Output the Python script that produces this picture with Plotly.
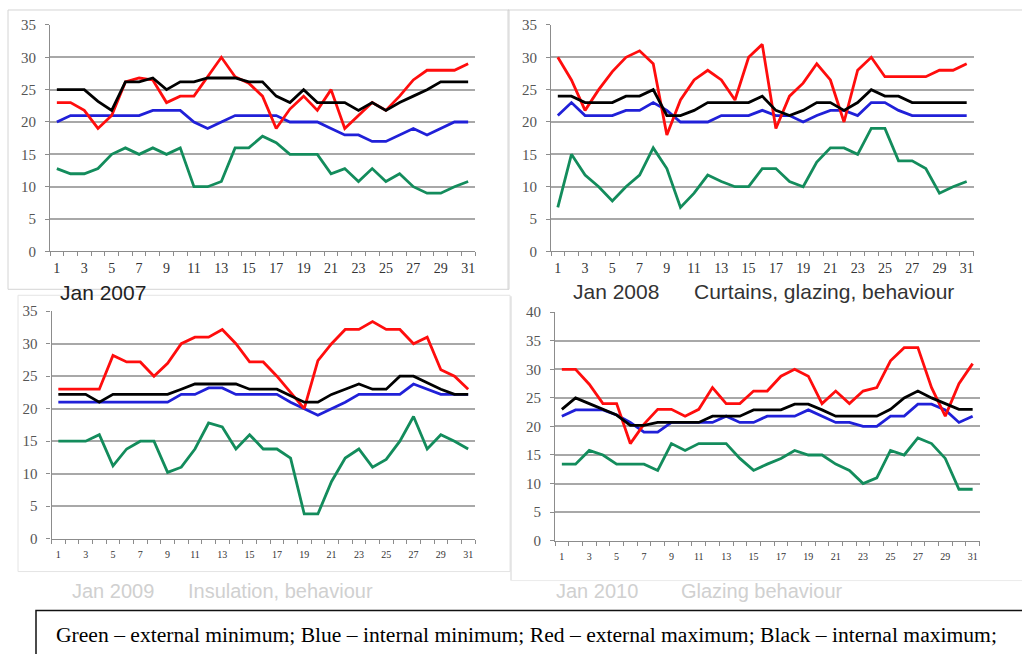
import plotly.graph_objects as go

W, H = 1022, 654
days = list(range(1, 32))
xtick_labels = [str(d) for d in range(1, 32, 2)]

# ---- Jan 2007 ----
p1_green = [12.8, 12, 12, 12.8, 15, 16, 15, 16, 15, 16, 10, 10, 10.8, 16, 16, 17.8, 16.8, 15, 15, 15, 12, 12.8, 10.8, 12.8, 10.8, 12, 10, 9, 9, 10, 10.8]
p1_blue = [20, 21, 21, 21, 21, 21, 21, 21.8, 21.8, 21.8, 20, 19, 20, 21, 21, 21, 21, 20, 20, 20, 19, 18, 18, 17, 17, 18, 19, 18, 19, 20, 20]
p1_red = [23, 23, 21.8, 19, 21, 26.2, 26.8, 26.5, 23, 24, 24, 27, 30, 27, 26, 24, 19, 22, 24, 21.8, 25, 19, 21, 23, 21.8, 24, 26.5, 28, 28, 28, 29]
p1_black = [25, 25, 25, 23.2, 21.8, 26.2, 26.2, 26.8, 25, 26.2, 26.2, 26.8, 26.8, 26.8, 26.2, 26.2, 24, 23, 25, 23, 23, 23, 21.8, 23, 21.8, 23, 24, 25, 26.2, 26.2, 26.2]

# ---- Jan 2008 ----
p2_green = [6.8, 15, 11.8, 10, 7.8, 10, 11.8, 16, 12.8, 6.8, 9, 11.8, 10.8, 10, 10, 12.8, 12.8, 10.8, 10, 13.8, 16, 16, 15, 19, 19, 14, 14, 12.8, 9, 10, 10.8]
p2_blue = [21, 23, 21, 21, 21, 21.8, 21.8, 23, 21.8, 20, 20, 20, 21, 21, 21, 21.8, 21, 21, 20, 21, 21.8, 21.8, 21, 23, 23, 21.8, 21, 21, 21, 21, 21]
p2_red = [30, 26.5, 21.8, 25, 27.8, 30, 31, 29, 18, 23.4, 26.5, 28, 26.5, 23.4, 30, 32, 19, 24, 26, 29, 26.5, 20, 28, 30, 27, 27, 27, 27, 28, 28, 29]
p2_black = [24, 24, 23, 23, 23, 24, 24, 25, 21, 21, 21.8, 23, 23, 23, 23, 24, 21.8, 21, 21.8, 23, 23, 21.8, 23, 25, 24, 24, 23, 23, 23, 23, 23]

# ---- Jan 2009 ----
p3_green = [15, 15, 15, 16, 11.2, 13.8, 15, 15, 10.2, 11, 13.8, 17.8, 17.2, 13.8, 16, 13.8, 13.8, 12.4, 3.8, 3.8, 8.8, 12.4, 13.8, 11, 12.2, 15, 18.8, 13.8, 16, 15, 13.8]
p3_blue = [21, 21, 21, 21, 21, 21, 21, 21, 21, 22.2, 22.2, 23.2, 23.2, 22.2, 22.2, 22.2, 22.2, 21, 20, 19, 20, 21, 22.2, 22.2, 22.2, 22.2, 23.8, 23, 22.2, 22.2, 22.2]
p3_red = [23, 23, 23, 23, 28.2, 27.2, 27.2, 25, 27, 30, 31, 31, 32.2, 30, 27.2, 27.2, 25, 22.5, 20, 27.4, 30, 32.2, 32.2, 33.4, 32.2, 32.2, 30, 31, 26, 25, 23]
p3_black = [22.2, 22.2, 22.2, 21, 22.2, 22.2, 22.2, 22.2, 22.2, 23, 23.8, 23.8, 23.8, 23.8, 23, 23, 23, 22, 21, 21, 22.2, 23, 23.8, 23, 23, 25, 25, 24, 23, 22.2, 22.2]

# ---- Jan 2010 ----
p4_green = [13.4, 13.4, 15.8, 15, 13.4, 13.4, 13.4, 12.3, 17, 15.8, 17, 17, 17, 14.4, 12.3, 13.4, 14.4, 15.8, 15, 15, 13.4, 12.3, 10, 11, 15.8, 15, 18, 17, 14.4, 9, 9]
p4_blue = [21.8, 22.9, 22.9, 22.9, 22, 20.7, 19, 19, 20.7, 20.7, 20.7, 20.7, 21.8, 20.7, 20.7, 21.8, 21.8, 21.8, 22.9, 21.8, 20.7, 20.7, 20, 20, 21.8, 21.8, 23.9, 23.9, 22.9, 20.7, 21.8]
p4_red = [30, 30, 27.4, 24, 24, 17, 20.4, 23, 23, 21.8, 23, 26.8, 24, 24, 26.2, 26.2, 28.8, 30, 28.8, 24, 26.2, 24, 26.2, 26.8, 31.5, 33.8, 33.8, 26.8, 21.8, 27.5, 31]
p4_black = [23, 25, 24, 23, 22, 20.2, 20.2, 20.7, 20.7, 20.7, 20.7, 21.8, 21.8, 21.8, 22.9, 22.9, 22.9, 23.9, 23.9, 22.9, 21.8, 21.8, 21.8, 21.8, 23, 25, 26.2, 25, 24, 23, 23]

captions = [
    ("Jan 2007", 58, 293, 21, "#222222"),
    ("Jan 2008", 571, 292, 21, "#333333"),
    ("Curtains, glazing, behaviour", 692, 292, 21, "#333333"),
    ("Jan 2009", 70, 592, 20, "#d0d0d0"),
    ("Insulation, behaviour", 186, 592, 20, "#d0d0d0"),
    ("Jan 2010", 554, 592, 20, "#d0d0d0"),
    ("Glazing behaviour", 679, 592, 20, "#d0d0d0"),
]
legend_text = "Green – external minimum; Blue – internal minimum; Red – external maximum; Black – internal maximum;"


def fx(px):
    return px / W


def fy(py):
    # pixel row (from top) -> paper fraction, compensating for render offset
    return 1 - ((py - 8) / 0.978) / H


panels = [
    dict(green=p1_green, blue=p1_blue, red=p1_red, black=p1_black, ymax=35,
         px=(50, 475), py=(25, 252), xfont=14, xstand=4),
    dict(green=p2_green, blue=p2_blue, red=p2_red, black=p2_black, ymax=35,
         px=(551, 973.5), py=(25, 252), xfont=14, xstand=4),
    dict(green=p3_green, blue=p3_blue, red=p3_red, black=p3_black, ymax=35,
         px=(51.5, 475), py=(312, 540), xfont=10, xstand=6),
    dict(green=p4_green, blue=p4_blue, red=p4_red, black=p4_black, ymax=40,
         px=(555, 979.5), py=(313, 542), xfont=10, xstand=6),
]

colors = dict(green="#138c5c", blue="#2020d8", red="#ff0d0d", black="#000000")

fig = go.Figure()
layout = {}
for i, p in enumerate(panels, start=1):
    sfx = "" if i == 1 else str(i)
    for key in ["green", "blue", "red", "black"]:
        fig.add_trace(go.Scatter(
            x=days, y=p[key], mode="lines",
            line=dict(color=colors[key], width=2.8),
            xaxis="x" + sfx, yaxis="y" + sfx, showlegend=False,
            hoverinfo="skip"))
    x0, x1 = p["px"]
    y0, y1 = p["py"]
    layout["xaxis" + sfx] = dict(
        domain=[fx(x0), fx(x1)], anchor="y" + sfx, range=[0.5, 31.5],
        tickvals=list(range(1, 32, 2)), ticktext=xtick_labels,
        showgrid=False, zeroline=False, showline=True, linecolor="#8c8c8c",
        linewidth=1.2, ticks="", ticklabelstandoff=p["xstand"],
        minor=dict(ticks="outside", tick0=0.5, dtick=1, ticklen=4,
                   tickcolor="#8c8c8c", tickwidth=1, showgrid=False),
        tickfont=dict(family="Liberation Serif", size=p["xfont"], color="#333333"),
        fixedrange=True)
    layout["yaxis" + sfx] = dict(
        domain=[fy(y1), fy(y0)], anchor="x" + sfx, range=[0, p["ymax"]],
        dtick=5, showgrid=True, gridcolor="#a8a8a8", gridwidth=1.6,
        zeroline=False, showline=True, linecolor="#8c8c8c", linewidth=1.2,
        ticks="outside", ticklen=4, tickcolor="#8c8c8c", ticklabelstandoff=6,
        tickfont=dict(family="Liberation Serif", size=15, color="#555555"),
        fixedrange=True)

shapes = [
    # panel frames
    dict(type="rect", xref="paper", yref="paper", x0=fx(8), x1=fx(509),
         y0=fy(290), y1=fy(10), line=dict(color="#d4d4d4", width=1), layer="below"),
    dict(type="line", xref="paper", yref="paper", x0=fx(508), x1=1,
         y0=fy(10), y1=fy(10), line=dict(color="#d4d4d4", width=1), layer="below"),
    dict(type="line", xref="paper", yref="paper", x0=fx(508), x1=fx(508),
         y0=fy(290), y1=fy(10), line=dict(color="#d4d4d4", width=1), layer="below"),
    dict(type="rect", xref="paper", yref="paper", x0=fx(18), x1=fx(510),
         y0=fy(573), y1=fy(296), line=dict(color="#e4e4e4", width=1), layer="below"),
    dict(type="line", xref="paper", yref="paper", x0=fx(511), x1=fx(511),
         y0=fy(582), y1=fy(297), line=dict(color="#d4d4d4", width=1), layer="below"),
    dict(type="line", xref="paper", yref="paper", x0=fx(511), x1=1,
         y0=fy(582), y1=fy(582), line=dict(color="#ececec", width=1), layer="below"),
    # legend box
    dict(type="rect", xref="paper", yref="paper", x0=fx(36), x1=1.01,
         y0=-0.03, y1=fy(612), line=dict(color="#111111", width=1.5)),
]

annotations = []
for text, cx, cy, size, col in captions:
    annotations.append(dict(
        text=text, x=fx(cx), y=fy(cy), xref="paper", yref="paper",
        xanchor="left", yanchor="middle", showarrow=False,
        font=dict(family="Liberation Sans", size=size, color=col)))
annotations.append(dict(
    text=legend_text, x=fx(54), y=fy(637), xref="paper", yref="paper",
    xanchor="left", yanchor="middle", showarrow=False,
    font=dict(family="Liberation Serif", size=21.6, color="#000000")))

fig.update_layout(
    width=W, height=H, margin=dict(l=0, r=0, t=0, b=0),
    paper_bgcolor="white", plot_bgcolor="white",
    shapes=shapes, annotations=annotations, **layout)

post = (
    "document.documentElement.style.margin='0';"
    "document.documentElement.style.overflow='hidden';"
    "document.body.style.margin='0';document.body.style.padding='0';"
    "document.body.style.overflow='hidden';"
    "var d=document.getElementById('{plot_id}');"
    "d.style.position='fixed';d.style.top='0px';d.style.left='0px';"
)
fig.write_html("out.html", post_script=post,
               config={"displayModeBar": False, "responsive": False})
